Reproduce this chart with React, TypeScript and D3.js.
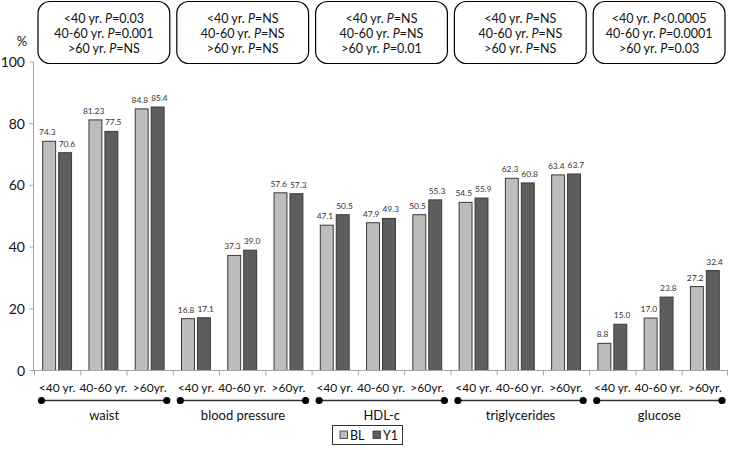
import React from 'react';
import { range, scaleBand, scaleLinear } from 'd3';

const groups = ['waist', 'blood pressure', 'HDL-c', 'triglycerides', 'glucose'];
const ages = ['<40 yr.', '40-60 yr.', '>60yr.'];
const series = ['BL', 'Y1'];
const blValues = [74.3, 81.23, 84.8, 16.8, 37.3, 57.6, 47.1, 47.9, 50.5, 54.5, 62.3, 63.4, 8.8, 17.0, 27.2];
const y1Values = [70.6, 77.5, 85.4, 17.1, 39.0, 57.3, 50.5, 49.3, 55.3, 55.9, 60.8, 63.7, 15.0, 23.8, 32.4];
const blLabels = ['74.3', '81.23', '84.8', '16.8', '37.3', '57.6', '47.1', '47.9', '50.5', '54.5', '62.3', '63.4', '8.8', '17.0', '27.2'];
const y1Labels = ['70.6', '77.5', '85.4', '17.1', '39.0', '57.3', '50.5', '49.3', '55.3', '55.9', '60.8', '63.7', '15.0', '23.8', '32.4'];
const yTicks = [0, 20, 40, 60, 80, 100];
// p-value boxes: [age prefix, operator, value] per line
const pBoxes = [
  [['<40 yr. ', '=', '0.03'], ['40-60 yr. ', '=', '0.001'], ['>60 yr. ', '=', 'NS']],
  [['<40 yr. ', '=', 'NS'], ['40-60 yr. ', '=', 'NS'], ['>60 yr. ', '=', 'NS']],
  [['<40 yr. ', '=', 'NS'], ['40-60 yr. ', '=', 'NS'], ['>60 yr. ', '=', '0.01']],
  [['<40 yr. ', '=', 'NS'], ['40-60 yr. ', '=', 'NS'], ['>60 yr. ', '=', 'NS']],
  [['<40 yr. ', '<', '0.0005'], ['40-60 yr. ', '=', '0.0001'], ['>60 yr. ', '=', '0.03']],
];

const colors = { BL: '#bdbdbd', Y1: '#5e5e5e' };
const labelShift = { BL: -1.8, Y1: 1.8 };
const font = 'Lato, "Open Sans", sans-serif';

export default function App() {
  const W = 730, H = 450;
  const cats = range(groups.length * ages.length);
  const x = scaleBand<number>().domain(cats).range([34, 728]);
  const inner = scaleBand<string>().domain(series).range([8.7, x.bandwidth() - 8.7]).paddingInner(0.19);
  const y = scaleLinear().domain([0, 100]).range([370.5, 62]);
  const vals = { BL: blValues, Y1: y1Values };
  const labs = { BL: blLabels, Y1: y1Labels };

  return (
    <svg width={W} height={H} style={{ position: 'absolute', left: 0, top: 0 }} fontFamily={font}>
      <rect width={W} height={H} fill="#fff" />
      {/* p-value boxes */}
      {groups.map((g, gi) => {
        const x0 = x(gi * 3)! + 4;
        const x1 = x(gi * 3 + 2)! + x.bandwidth() - 3;
        return (
          <g key={g}>
            <rect x={x0} y={1.5} width={x1 - x0} height={62} rx={12} fill="#fff" stroke="#000" strokeWidth={1.2} />
            {pBoxes[gi].map((ln, li) => (
              <text key={li} x={(x0 + x1) / 2} y={22.5 + li * 15} textAnchor="middle" fontSize={12.5} fill="#111">
                {ln[0]}<tspan fontStyle="italic">P</tspan>{ln[1] + ln[2]}
              </text>
            ))}
          </g>
        );
      })}

      <text x={22} y={46} textAnchor="middle" fontSize={13} fill="#111">%</text>

      {/* y axis */}
      <line x1={33.5} x2={33.5} y1={y(100)} y2={y(0)} stroke="#a6a6a6" />
      {yTicks.map(t => (
        <g key={t}>
          <line x1={29.5} x2={33.5} y1={y(t)} y2={y(t)} stroke="#a6a6a6" />
          <text x={25} y={y(t) + 5} textAnchor="end" fontSize={14} fill="#111">{t}</text>
        </g>
      ))}

      {/* bars */}
      {cats.map(c => (
        <g key={c} transform={`translate(${x(c)},0)`}>
          {series.map(s => {
            const v = vals[s][c];
            const bx = inner(s)!;
            return (
              <g key={s}>
                <rect x={bx} y={y(v)} width={inner.bandwidth()} height={y(0) - y(v)}
                  fill={colors[s]} stroke="#3a3a3a" strokeWidth={1} />
                <text x={bx + inner.bandwidth() / 2 + labelShift[s]} y={y(v) - 6} textAnchor="middle"
                  fontSize={8.4} fill="#333">
                  {labs[s][c]}
                </text>
              </g>
            );
          })}
        </g>
      ))}

      {/* x axis */}
      <line x1={33.5} x2={728} y1={y(0)} y2={y(0)} stroke="#a6a6a6" />
      {cats.map(c => (
        <line key={c} x1={x(c)! + 0.5} x2={x(c)! + 0.5} y1={y(0)} y2={y(0) + 5} stroke="#a6a6a6" />
      ))}
      <line x1={727.5} x2={727.5} y1={y(0)} y2={y(0) + 5} stroke="#a6a6a6" />
      {cats.map(c => (
        <text key={c} x={x(c)! + x.bandwidth() / 2} y={392} textAnchor="middle" fontSize={12} fill="#111">
          {ages[c % 3]}
        </text>
      ))}

      {/* group brackets */}
      {groups.map((g, gi) => {
        const a = x(gi * 3)! + 7.5;
        const b = x(gi * 3 + 2)! + x.bandwidth() - 6;
        return (
          <g key={g}>
            <line x1={a} x2={b} y1={400.5} y2={400.5} stroke="#333" strokeWidth={1.3} />
            <circle cx={a} cy={400.5} r={3.6} fill="#000" />
            <circle cx={b} cy={400.5} r={3.6} fill="#000" />
            <text x={(a + b) / 2} y={420} textAnchor="middle" fontSize={13} fill="#111">{g}</text>
          </g>
        );
      })}

      {/* legend */}
      <rect x={332.5} y={425.5} width={70} height={19} fill="#fff" stroke="#333" />
      {series.map((s, i) => (
        <g key={s} transform={`translate(${340 + i * 33},0)`}>
          <rect x={0} y={431} width={7.5} height={7.5} fill={colors[s]} stroke="#333" strokeWidth={0.8} />
          <text x={10} y={440} fontSize={12.5} fill="#111">{s}</text>
        </g>
      ))}
    </svg>
  );
}
